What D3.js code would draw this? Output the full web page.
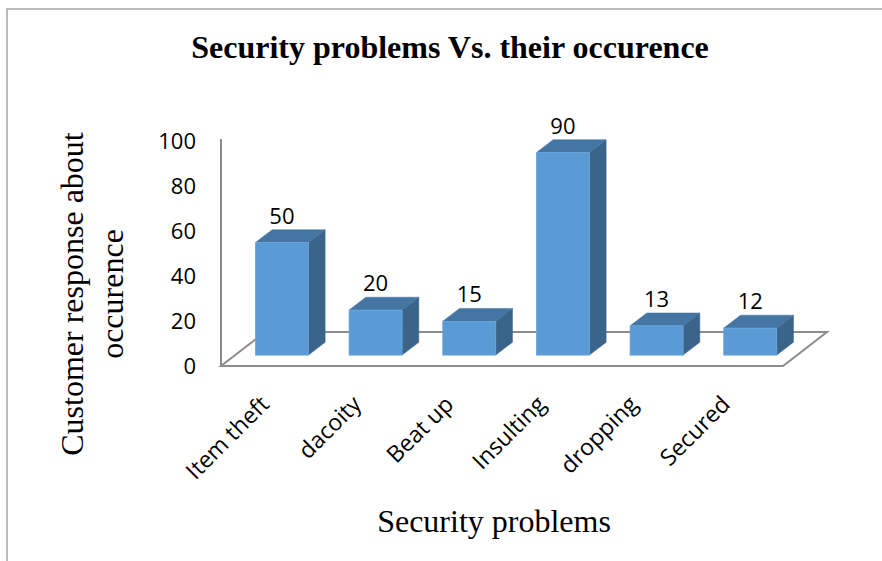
<!DOCTYPE html>
<html><head><meta charset="utf-8">
<script src="https://cdn.jsdelivr.net/npm/d3@7"></script>
<style>body{margin:0;background:#fff}svg{display:block}</style>
</head><body>
<script>
const categories = ["Item theft","dacoity","Beat up","Insulting","dropping","Secured"];
const values = [50,20,15,90,13,12];
const yTicks = [0,20,40,60,80,100];
const chartTitle = "Security problems Vs. their occurence";
const xTitle = "Security problems";
const yTitleLines = ["Customer response about","occurence"];

const W=882,H=561;
const svg=d3.select("body").append("svg").attr("width",W).attr("height",H);
svg.append("path").attr("d",`M7,${H} L7,9 L${W},9`).attr("fill","none").attr("stroke","#a6a6a6").attr("stroke-width",1.5);

const x=d3.scaleBand().domain(categories).range([221,783]).paddingInner(0.434).paddingOuter(0.217);
const y=d3.scaleLinear().domain([0,100]).range([366,141]);
const DX=44, DY=-34;
const t0=0.32, t1=0.70;

const g=svg.append("g");
const x0=221,x1=783,yb=y(0);
g.append("path").attr("d",`M${x0},${yb} L${x1},${yb} L${x1+DX},${yb+DY} L${x0+DX},${yb+DY} Z`)
  .attr("fill","#fff").attr("stroke","#8c8c8c").attr("stroke-width",2);
g.append("line").attr("x1",x0).attr("x2",x0).attr("y1",yb).attr("y2",y(100)-2).attr("stroke","#8c8c8c").attr("stroke-width",2);

svg.append("g").selectAll("text").data(yTicks).join("text")
  .attr("x",196).attr("y",d=>y(d)).attr("dy","0.35em").attr("text-anchor","end")
  .attr("font-family","Open Sans").attr("font-size",22).attr("fill","#000").text(d=>d);

const bars=svg.append("g");
categories.forEach((c,i)=>{
  const v=values[i];
  const fx=x(c)+DX*t0, bw=x.bandwidth();
  const fy0=y(0)+DY*t0, fy1=y(v)+DY*t0;
  const ddx=DX*(t1-t0), ddy=DY*(t1-t0);
  bars.append("path").attr("d",`M${fx+bw},${fy1} L${fx+bw+ddx},${fy1+ddy} L${fx+bw+ddx},${fy0+ddy} L${fx+bw},${fy0} Z`)
    .attr("fill","#3a6489").attr("stroke","#3a6489").attr("stroke-width",0.5);
  bars.append("path").attr("d",`M${fx},${fy1} L${fx+ddx},${fy1+ddy} L${fx+bw+ddx},${fy1+ddy} L${fx+bw},${fy1} Z`)
    .attr("fill","#4575a3").attr("stroke","#4575a3").attr("stroke-width",0.5);
  bars.append("rect").attr("x",fx).attr("y",fy1).attr("width",bw).attr("height",fy0-fy1)
    .attr("fill","#5b9bd5").attr("stroke","#6aa6dc").attr("stroke-width",0.8);
  bars.append("text").attr("x",fx+bw/2).attr("y",fy1+ddy-6).attr("text-anchor","middle")
    .attr("font-family","Open Sans").attr("font-size",22).attr("fill","#000").text(v);
});

svg.append("g").selectAll("text").data(categories).join("text")
  .attr("transform",(d,i)=>`translate(${x(d)+x.bandwidth()/2-3-i*1.5},${400}) rotate(-45)`)
  .attr("text-anchor","end").attr("dy","0.35em")
  .attr("font-family","Open Sans").attr("font-size",23).attr("fill","#000").text(d=>d);

svg.append("text").attr("x",450).attr("y",58).attr("text-anchor","middle")
  .attr("font-family","Liberation Serif").attr("font-weight","bold").attr("font-size",32).text(chartTitle);
svg.append("text").attr("x",494).attr("y",532).attr("text-anchor","middle")
  .attr("font-family","Liberation Serif").attr("font-size",32).text(xTitle);
const yt=svg.append("text").attr("transform","translate(83,294) rotate(-90)").attr("text-anchor","middle")
  .attr("font-family","Liberation Serif").attr("font-size",32);
yTitleLines.forEach((l,i)=>yt.append("tspan").attr("x",0).attr("dy",i?40:0).text(l));
</script>
</body></html>
